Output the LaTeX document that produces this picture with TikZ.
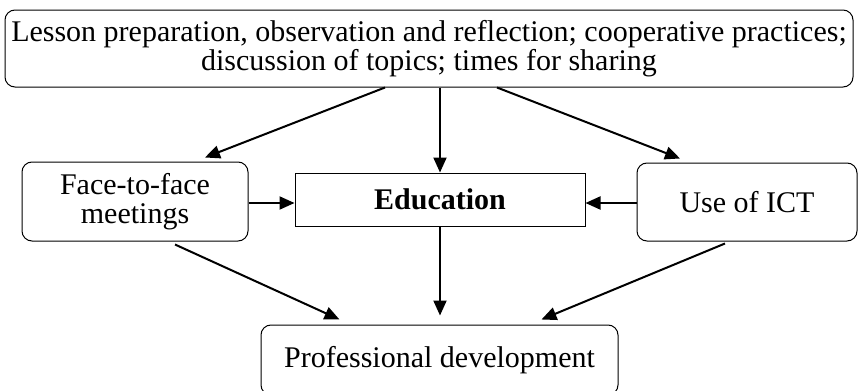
\documentclass[tikz,border=0pt]{standalone}
\usepackage{fontspec}
\setmainfont{Liberation Serif}
\usetikzlibrary{arrows.meta}

\begin{document}
\begin{tikzpicture}[x=0.5pt, y=-0.5pt,
		every node/.style={font=\fontsize{15}{14.75}\selectfont},
		roundbox/.style={draw, rectangle, rounded corners=5pt, line width=0.5pt, align=center, inner sep=0pt},
		plainbox/.style={draw, rectangle, line width=0.5pt, align=center, inner sep=0pt},
		arr/.style={-{Triangle[length=7.5pt, width=6.5pt]}, line width=1pt}]
				\useasboundingbox (0,0) rectangle (858,391);
				\node[roundbox, minimum width=424pt, minimum height=38.5pt] (top)at(429, 48.5) {Lesson preparation, observation and reflection; cooperative practices;\\ discussion of topics; times for sharing};
				\node[roundbox, minimum width=113pt, minimum height=39.5pt] (face)at(135, 201.5) {Face-to-face\\ meetings};
				\node[plainbox, minimum width=145pt, minimum height=26.5pt] (edu)at(440, 199.5) {\bfseries Education};
				\node[roundbox, minimum width=110pt, minimum height=39pt] (ict)at(747, 202) {Use of ICT};
				\node[roundbox, minimum width=178.5pt, minimum height=35pt] (prof)at(439.5, 360) {Professional development};
				\draw[arr] ([xshift=-22pt]top.south) -- ([xshift=35pt, yshift=2pt]face.north);
				\draw[arr] (edu.north |- top.south) -- (edu.north);
				\draw[arr] ([xshift=34pt]top.south) -- ([xshift=-33.5pt, yshift=2pt]ict.north);
				\draw[arr] ([yshift=-0.75pt]face.east) -- ([yshift=-0.75pt]face.east -| edu.west);
				\draw[arr] ([yshift=-0.5pt]ict.west) -- ([yshift=-0.5pt]ict.west -| edu.east);
				\draw[arr] ([xshift=20pt, yshift=-1.5pt]face.south) -- ([xshift=-50pt, yshift=2.5pt]prof.north);
				\draw[arr, shorten >=4.5pt] (edu.south) -- (edu.south |- prof.north);
				\draw[arr] ([xshift=-11pt, yshift=-1pt]ict.south) -- ([xshift=51pt, yshift=2.5pt]prof.north);
			\end{tikzpicture}
\end{document}
